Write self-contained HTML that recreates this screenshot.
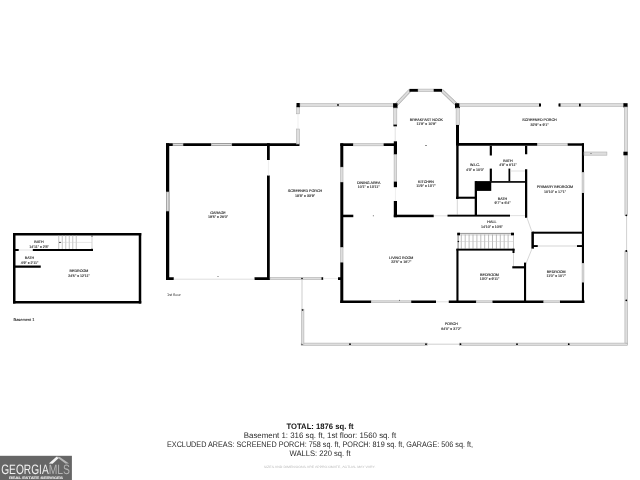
<!DOCTYPE html>
<html><head><meta charset="utf-8">
<style>
html,body{margin:0;padding:0;background:#fff;width:640px;height:480px;overflow:hidden}
svg{display:block;will-change:transform}
text{font-family:"Liberation Sans",sans-serif;text-rendering:geometricPrecision}
</style></head>
<body>
<svg width="640" height="480" viewBox="0 0 640 480">
<rect x="0" y="0" width="640" height="480" fill="#fff"/>
<rect x="13.00" y="233.00" width="128.25" height="2.50" fill="#000"/>
<rect x="13.00" y="233.00" width="2.50" height="70.50" fill="#000"/>
<rect x="138.75" y="233.00" width="2.50" height="70.50" fill="#000"/>
<rect x="13.00" y="301.00" width="128.25" height="2.50" fill="#000"/>
<rect x="15.00" y="249.00" width="3.75" height="2.00" fill="#000"/>
<rect x="32.75" y="249.00" width="60.25" height="2.00" fill="#000"/>
<line x1="18.75" y1="250.00" x2="32.75" y2="250.00" stroke="#ccc" stroke-width="0.6"/>
<line x1="92.00" y1="235.50" x2="92.00" y2="249.00" stroke="#aaa" stroke-width="0.5"/>
<line x1="58.75" y1="235.50" x2="58.75" y2="249.00" stroke="#b5b5b5" stroke-width="0.8"/>
<line x1="62.25" y1="235.50" x2="62.25" y2="249.00" stroke="#b5b5b5" stroke-width="0.8"/>
<line x1="65.75" y1="235.50" x2="65.75" y2="249.00" stroke="#b5b5b5" stroke-width="0.8"/>
<line x1="69.25" y1="235.50" x2="69.25" y2="249.00" stroke="#b5b5b5" stroke-width="0.8"/>
<line x1="72.75" y1="235.50" x2="72.75" y2="249.00" stroke="#b5b5b5" stroke-width="0.8"/>
<line x1="76.25" y1="235.50" x2="76.25" y2="249.00" stroke="#b5b5b5" stroke-width="0.8"/>
<line x1="59.00" y1="242.40" x2="92.00" y2="242.40" stroke="#ccc" stroke-width="0.5"/>
<circle cx="60.00" cy="242.40" r="0.7" fill="#000"/>
<circle cx="92.00" cy="236.00" r="0.6" fill="#000"/>
<circle cx="92.00" cy="249.00" r="0.6" fill="#000"/>
<rect x="15.00" y="265.50" width="25.75" height="2.25" fill="#000"/>
<text x="39.00" y="242.80" font-size="3.65" text-anchor="middle" fill="#222" stroke="#222" stroke-width="0.12">BATH</text>
<text x="39.00" y="247.80" font-size="3.65" text-anchor="middle" fill="#222" stroke="#222" stroke-width="0.12">14'11&quot; x 2'8&quot;</text>
<text x="29.50" y="258.50" font-size="3.65" text-anchor="middle" fill="#222" stroke="#222" stroke-width="0.12">BATH</text>
<text x="29.50" y="263.50" font-size="3.65" text-anchor="middle" fill="#222" stroke="#222" stroke-width="0.12">4'9&quot; x 2'11&quot;</text>
<text x="79.00" y="272.10" font-size="3.65" text-anchor="middle" fill="#222" stroke="#222" stroke-width="0.12">BEDROOM</text>
<text x="79.00" y="277.10" font-size="3.65" text-anchor="middle" fill="#222" stroke="#222" stroke-width="0.12">24'5&quot; x 12'11&quot;</text>
<text x="13.60" y="320.80" font-size="3.9" text-anchor="start" fill="#222" stroke="#222" stroke-width="0.1">Basement 1</text>
<rect x="166.00" y="143.25" width="133.50" height="2.75" fill="#000"/>
<rect x="173.00" y="143.60" width="10.00" height="2.10" fill="#dedede" stroke="#b0b0b0" stroke-width="0.6"/>
<rect x="211.25" y="143.60" width="20.50" height="2.10" fill="#dedede" stroke="#b0b0b0" stroke-width="0.6"/>
<rect x="166.00" y="143.25" width="3.25" height="136.75" fill="#000"/>
<rect x="166.30" y="192.00" width="2.60" height="19.00" fill="#dedede" stroke="#b0b0b0" stroke-width="0.6"/>
<rect x="166.00" y="277.25" width="7.75" height="2.75" fill="#000"/>
<rect x="254.50" y="277.25" width="15.50" height="2.75" fill="#000"/>
<line x1="173.75" y1="279.20" x2="254.50" y2="279.20" stroke="#c8c8c8" stroke-width="0.6"/>
<rect x="267.00" y="143.25" width="2.75" height="16.75" fill="#000"/>
<rect x="267.00" y="175.50" width="2.75" height="104.50" fill="#000"/>
<line x1="268.40" y1="160.00" x2="268.40" y2="175.50" stroke="#ddd" stroke-width="0.5"/>
<rect x="296.60" y="129.00" width="2.80" height="15.00" fill="#dedede" stroke="#b0b0b0" stroke-width="0.6"/>
<rect x="296.60" y="106.00" width="2.80" height="7.80" fill="#dedede" stroke="#b0b0b0" stroke-width="0.6"/>
<line x1="298.00" y1="113.80" x2="298.00" y2="129.00" stroke="#ddd" stroke-width="0.5"/>
<rect x="296.50" y="103.00" width="3.50" height="4.20" fill="#000"/>
<text x="218.00" y="213.60" font-size="3.65" text-anchor="middle" fill="#222" stroke="#222" stroke-width="0.12">GARAGE</text>
<text x="218.00" y="218.10" font-size="3.65" text-anchor="middle" fill="#222" stroke="#222" stroke-width="0.12">19'5&quot; x 26'0&quot;</text>
<text x="305.00" y="192.30" font-size="3.65" text-anchor="middle" fill="#222" stroke="#222" stroke-width="0.12">SCREENED PORCH</text>
<text x="305.00" y="196.80" font-size="3.65" text-anchor="middle" fill="#222" stroke="#222" stroke-width="0.12">18'8&quot; x 33'9&quot;</text>
<text x="167.00" y="296.30" font-size="3.9" text-anchor="start" fill="#333" >1st floor</text>
<rect x="270.00" y="277.40" width="52.50" height="2.20" fill="#dedede" stroke="#b0b0b0" stroke-width="0.6"/>
<circle cx="302.00" cy="278.50" r="0.8" fill="#000"/>
<rect x="321.50" y="277.30" width="1.70" height="2.50" fill="#000"/>
<line x1="323.00" y1="278.50" x2="338.50" y2="278.50" stroke="#ddd" stroke-width="0.5"/>
<rect x="338.00" y="277.25" width="3.00" height="2.75" fill="#000"/>
<rect x="300.00" y="103.60" width="94.00" height="2.80" fill="#dedede" stroke="#b0b0b0" stroke-width="0.6"/>
<circle cx="338.00" cy="105.00" r="0.9" fill="#000"/>
<line x1="395.5" y1="105.5" x2="410" y2="90.3" stroke="#a8a8a8" stroke-width="3.4"/>
<line x1="395.5" y1="105.5" x2="410" y2="90.3" stroke="#dcdcdc" stroke-width="2.2"/>
<line x1="457.5" y1="105.5" x2="441.5" y2="90.3" stroke="#a8a8a8" stroke-width="3.4"/>
<line x1="457.5" y1="105.5" x2="441.5" y2="90.3" stroke="#dcdcdc" stroke-width="2.2"/>
<rect x="409.40" y="88.90" width="8.70" height="2.85" fill="#000"/>
<rect x="418.10" y="89.10" width="15.65" height="2.50" fill="#dedede" stroke="#b0b0b0" stroke-width="0.6"/>
<rect x="433.75" y="88.90" width="8.25" height="2.85" fill="#000"/>
<rect x="393.10" y="103.25" width="4.40" height="5.00" fill="#000"/>
<rect x="455.00" y="103.25" width="5.00" height="5.00" fill="#000"/>
<rect x="393.60" y="108.00" width="3.20" height="17.20" fill="#dedede" stroke="#b0b0b0" stroke-width="0.6"/>
<rect x="393.50" y="124.60" width="3.40" height="1.80" fill="#000"/>
<line x1="395.20" y1="126.40" x2="395.20" y2="141.30" stroke="#ccc" stroke-width="0.6"/>
<rect x="456.10" y="108.00" width="3.20" height="17.00" fill="#dedede" stroke="#b0b0b0" stroke-width="0.6"/>
<rect x="456.00" y="125.00" width="3.00" height="20.75" fill="#000"/>
<rect x="456.20" y="145.75" width="2.40" height="53.25" fill="#000"/>
<line x1="457.30" y1="199.00" x2="457.30" y2="214.70" stroke="#bbb" stroke-width="0.6"/>
<text x="426.40" y="120.50" font-size="3.65" text-anchor="middle" fill="#222" stroke="#222" stroke-width="0.12">BREAKFAST NOOK</text>
<text x="426.40" y="125.00" font-size="3.65" text-anchor="middle" fill="#222" stroke="#222" stroke-width="0.12">11'9&quot; x 10'9&quot;</text>
<rect x="459.50" y="103.60" width="80.50" height="2.80" fill="#dedede" stroke="#b0b0b0" stroke-width="0.6"/>
<rect x="539.00" y="103.50" width="2.00" height="3.00" fill="#000"/>
<rect x="559.50" y="103.60" width="65.00" height="2.80" fill="#dedede" stroke="#b0b0b0" stroke-width="0.6"/>
<rect x="558.50" y="103.50" width="2.00" height="3.00" fill="#000"/>
<rect x="623.40" y="103.20" width="4.20" height="4.20" fill="#000"/>
<rect x="579.00" y="103.60" width="1.70" height="2.80" fill="#000"/>
<rect x="624.40" y="107.00" width="3.20" height="46.00" fill="#dedede" stroke="#b0b0b0" stroke-width="0.6"/>
<rect x="624.90" y="153.00" width="2.70" height="62.30" fill="#dedede" stroke="#b0b0b0" stroke-width="0.6"/>
<line x1="626.60" y1="215.30" x2="626.60" y2="251.00" stroke="#c4c4c4" stroke-width="0.8"/>
<rect x="624.90" y="251.00" width="2.70" height="92.60" fill="#dedede" stroke="#b0b0b0" stroke-width="0.6"/>
<rect x="623.40" y="151.70" width="4.20" height="3.60" fill="#000"/>
<circle cx="626.30" cy="215.30" r="0.9" fill="#000"/>
<circle cx="626.30" cy="251.00" r="0.9" fill="#000"/>
<circle cx="626.30" cy="300.30" r="0.9" fill="#000"/>
<circle cx="626.30" cy="344.00" r="1.0" fill="#000"/>
<rect x="301.20" y="343.10" width="126.40" height="2.30" fill="#dedede" stroke="#b0b0b0" stroke-width="0.6"/>
<line x1="427.60" y1="344.20" x2="459.60" y2="344.20" stroke="#bbb" stroke-width="0.7"/>
<rect x="459.60" y="343.10" width="167.80" height="2.30" fill="#dedede" stroke="#b0b0b0" stroke-width="0.6"/>
<circle cx="302.00" cy="344.20" r="0.9" fill="#000"/>
<circle cx="350.00" cy="344.20" r="0.9" fill="#000"/>
<circle cx="426.00" cy="344.20" r="0.9" fill="#000"/>
<circle cx="460.50" cy="344.20" r="0.9" fill="#000"/>
<circle cx="517.00" cy="344.20" r="0.9" fill="#000"/>
<circle cx="568.75" cy="344.20" r="0.9" fill="#000"/>
<line x1="302.00" y1="279.70" x2="302.00" y2="309.20" stroke="#999" stroke-width="0.5"/>
<rect x="301.40" y="309.20" width="2.50" height="35.00" fill="#dedede" stroke="#b0b0b0" stroke-width="0.6"/>
<circle cx="302.60" cy="310.00" r="0.8" fill="#000"/>
<text x="305.00" y="192.30" font-size="3.65" text-anchor="middle" fill="#222" stroke="#222" stroke-width="0.12"></text>
<text x="305.00" y="196.80" font-size="3.65" text-anchor="middle" fill="#222" stroke="#222" stroke-width="0.12"></text>
<rect x="340.30" y="143.30" width="13.00" height="2.70" fill="#000"/>
<rect x="353.30" y="143.60" width="30.40" height="2.20" fill="#dedede" stroke="#b0b0b0" stroke-width="0.6"/>
<rect x="383.70" y="143.30" width="13.30" height="2.70" fill="#000"/>
<rect x="340.30" y="143.30" width="3.00" height="23.90" fill="#000"/>
<rect x="340.60" y="167.20" width="2.40" height="15.00" fill="#dedede" stroke="#b0b0b0" stroke-width="0.6"/>
<rect x="340.30" y="182.20" width="3.00" height="65.30" fill="#000"/>
<rect x="340.60" y="247.50" width="2.40" height="15.00" fill="#dedede" stroke="#b0b0b0" stroke-width="0.6"/>
<rect x="340.30" y="262.50" width="3.00" height="40.50" fill="#000"/>
<rect x="343.00" y="214.70" width="10.30" height="2.50" fill="#000"/>
<rect x="393.80" y="141.30" width="3.20" height="13.40" fill="#000"/>
<rect x="394.10" y="154.70" width="2.60" height="27.00" fill="#dedede" stroke="#b0b0b0" stroke-width="0.6"/>
<rect x="393.80" y="181.70" width="3.20" height="5.50" fill="#000"/>
<line x1="395.40" y1="187.20" x2="395.40" y2="201.00" stroke="#ddd" stroke-width="0.5"/>
<rect x="393.80" y="201.00" width="3.20" height="16.20" fill="#000"/>
<rect x="393.80" y="214.70" width="39.95" height="2.50" fill="#000"/>
<line x1="433.75" y1="215.80" x2="447.50" y2="215.80" stroke="#ccc" stroke-width="0.6"/>
<rect x="447.50" y="214.70" width="62.50" height="1.90" fill="#000"/>
<line x1="510.00" y1="215.60" x2="525.00" y2="215.60" stroke="#ccc" stroke-width="0.6"/>
<text x="368.70" y="183.50" font-size="3.65" text-anchor="middle" fill="#222" stroke="#222" stroke-width="0.12">DINING AREA</text>
<text x="368.70" y="188.00" font-size="3.65" text-anchor="middle" fill="#222" stroke="#222" stroke-width="0.12">10'1&quot; x 13'11&quot;</text>
<text x="426.00" y="182.60" font-size="3.65" text-anchor="middle" fill="#222" stroke="#222" stroke-width="0.12">KITCHEN</text>
<text x="426.00" y="187.10" font-size="3.65" text-anchor="middle" fill="#222" stroke="#222" stroke-width="0.12">11'9&quot; x 13'7&quot;</text>
<circle cx="426.00" cy="145.50" r="0.5" fill="#555"/>
<rect x="456.25" y="143.00" width="81.25" height="2.75" fill="#000"/>
<rect x="537.50" y="143.60" width="30.25" height="2.00" fill="#dedede" stroke="#b0b0b0" stroke-width="0.6"/>
<rect x="567.75" y="143.30" width="16.25" height="2.45" fill="#000"/>
<rect x="489.75" y="145.75" width="2.15" height="9.75" fill="#000"/>
<rect x="489.75" y="168.60" width="2.15" height="12.50" fill="#000"/>
<rect x="475.60" y="181.10" width="15.65" height="9.80" fill="#000"/>
<rect x="474.70" y="181.10" width="2.30" height="34.40" fill="#000"/>
<rect x="456.00" y="196.70" width="19.20" height="2.05" fill="#000"/>
<rect x="491.00" y="181.10" width="36.00" height="1.65" fill="#000"/>
<rect x="525.00" y="145.75" width="2.25" height="8.50" fill="#000"/>
<rect x="525.00" y="169.25" width="2.25" height="48.55" fill="#000"/>
<rect x="508.50" y="168.60" width="1.75" height="12.40" fill="#000"/>
<line x1="510.00" y1="171.00" x2="525.00" y2="171.00" stroke="#ccc" stroke-width="0.6"/>
<text x="475.00" y="166.20" font-size="3.65" text-anchor="middle" fill="#222" stroke="#222" stroke-width="0.12">W.I.C.</text>
<text x="475.00" y="170.70" font-size="3.65" text-anchor="middle" fill="#222" stroke="#222" stroke-width="0.12">4'3&quot; x 10'0&quot;</text>
<text x="508.00" y="161.70" font-size="3.65" text-anchor="middle" fill="#222" stroke="#222" stroke-width="0.12">BATH</text>
<text x="508.00" y="166.20" font-size="3.65" text-anchor="middle" fill="#222" stroke="#222" stroke-width="0.12">4'8&quot; x 6'11&quot;</text>
<text x="502.50" y="199.50" font-size="3.65" text-anchor="middle" fill="#222" stroke="#222" stroke-width="0.12">BATH</text>
<text x="502.50" y="204.00" font-size="3.65" text-anchor="middle" fill="#222" stroke="#222" stroke-width="0.12">9'7&quot; x 6'4&quot;</text>
<text x="491.90" y="223.30" font-size="3.65" text-anchor="middle" fill="#222" stroke="#222" stroke-width="0.12">HALL</text>
<text x="491.90" y="227.80" font-size="3.65" text-anchor="middle" fill="#222" stroke="#222" stroke-width="0.12">14'10&quot; x 10'6&quot;</text>
<rect x="581.90" y="143.30" width="2.10" height="29.20" fill="#000"/>
<rect x="582.10" y="172.50" width="1.80" height="20.50" fill="#dedede" stroke="#b0b0b0" stroke-width="0.6"/>
<rect x="581.90" y="193.00" width="2.10" height="70.30" fill="#000"/>
<rect x="582.10" y="263.30" width="1.80" height="19.20" fill="#dedede" stroke="#b0b0b0" stroke-width="0.6"/>
<rect x="581.90" y="282.50" width="2.10" height="20.50" fill="#000"/>
<rect x="584.00" y="152.00" width="22.90" height="3.20" fill="#dedede" stroke="#b0b0b0" stroke-width="0.6"/>
<rect x="532.00" y="231.70" width="51.70" height="2.00" fill="#000"/>
<rect x="531.40" y="231.70" width="2.50" height="17.00" fill="#000"/>
<rect x="533.00" y="245.10" width="4.80" height="1.90" fill="#000"/>
<line x1="537.80" y1="246.00" x2="577.20" y2="246.00" stroke="#bbb" stroke-width="0.6"/>
<rect x="577.00" y="245.10" width="5.00" height="1.90" fill="#000"/>
<line x1="527.00" y1="217.80" x2="532.00" y2="232.00" stroke="#ccc" stroke-width="0.8"/>
<line x1="532.00" y1="248.70" x2="525.00" y2="266.00" stroke="#ccc" stroke-width="0.8"/>
<text x="555.00" y="188.30" font-size="3.65" text-anchor="middle" fill="#222" stroke="#222" stroke-width="0.12">PRIMARY BEDROOM</text>
<text x="555.00" y="192.80" font-size="3.65" text-anchor="middle" fill="#222" stroke="#222" stroke-width="0.12">10'10&quot; x 17'1&quot;</text>
<rect x="457.8" y="233.5" width="55.8" height="15.5" fill="none" stroke="#aaa" stroke-width="0.6"/>
<line x1="461.30" y1="234.50" x2="461.30" y2="248.80" stroke="#a8a8a8" stroke-width="0.75"/>
<line x1="465.20" y1="234.50" x2="465.20" y2="248.80" stroke="#a8a8a8" stroke-width="0.75"/>
<line x1="469.10" y1="234.50" x2="469.10" y2="248.80" stroke="#a8a8a8" stroke-width="0.75"/>
<line x1="473.00" y1="234.50" x2="473.00" y2="248.80" stroke="#a8a8a8" stroke-width="0.75"/>
<line x1="476.90" y1="234.50" x2="476.90" y2="248.80" stroke="#a8a8a8" stroke-width="0.75"/>
<line x1="480.80" y1="234.50" x2="480.80" y2="248.80" stroke="#a8a8a8" stroke-width="0.75"/>
<line x1="484.70" y1="234.50" x2="484.70" y2="248.80" stroke="#a8a8a8" stroke-width="0.75"/>
<line x1="488.60" y1="234.50" x2="488.60" y2="248.80" stroke="#a8a8a8" stroke-width="0.75"/>
<line x1="492.50" y1="234.50" x2="492.50" y2="248.80" stroke="#a8a8a8" stroke-width="0.75"/>
<line x1="496.40" y1="234.50" x2="496.40" y2="248.80" stroke="#a8a8a8" stroke-width="0.75"/>
<line x1="500.30" y1="234.50" x2="500.30" y2="248.80" stroke="#a8a8a8" stroke-width="0.75"/>
<line x1="504.20" y1="234.50" x2="504.20" y2="248.80" stroke="#a8a8a8" stroke-width="0.75"/>
<line x1="508.10" y1="234.50" x2="508.10" y2="248.80" stroke="#a8a8a8" stroke-width="0.75"/>
<line x1="458.00" y1="241.50" x2="513.50" y2="241.50" stroke="#c4c4c4" stroke-width="0.5"/>
<line x1="458.00" y1="233.40" x2="513.00" y2="233.40" stroke="#777" stroke-width="0.6"/>
<line x1="458.00" y1="234.90" x2="513.00" y2="234.90" stroke="#999" stroke-width="0.5"/>
<line x1="458.30" y1="235.00" x2="458.30" y2="249.00" stroke="#aaa" stroke-width="1.2"/>
<circle cx="458.30" cy="241.50" r="0.7" fill="#000"/>
<rect x="457.20" y="232.70" width="2.80" height="2.60" fill="#000"/>
<rect x="511.00" y="232.70" width="3.00" height="2.60" fill="#000"/>
<rect x="456.40" y="248.75" width="58.10" height="1.85" fill="#000"/>
<rect x="456.40" y="248.75" width="2.10" height="54.25" fill="#000"/>
<rect x="512.50" y="248.75" width="2.00" height="4.25" fill="#000"/>
<line x1="513.50" y1="253.00" x2="513.50" y2="266.20" stroke="#bbb" stroke-width="0.6"/>
<rect x="512.30" y="266.20" width="13.70" height="2.20" fill="#000"/>
<rect x="524.00" y="262.60" width="2.10" height="40.40" fill="#000"/>
<rect x="340.30" y="300.50" width="30.95" height="2.50" fill="#000"/>
<rect x="371.25" y="300.80" width="40.00" height="1.90" fill="#dedede" stroke="#b0b0b0" stroke-width="0.6"/>
<rect x="411.25" y="300.50" width="24.75" height="2.50" fill="#000"/>
<line x1="436.00" y1="301.80" x2="448.75" y2="301.80" stroke="#ccc" stroke-width="0.6"/>
<rect x="448.75" y="300.50" width="27.50" height="2.50" fill="#000"/>
<rect x="476.25" y="300.80" width="16.25" height="1.90" fill="#dedede" stroke="#b0b0b0" stroke-width="0.6"/>
<rect x="492.50" y="300.50" width="51.25" height="2.50" fill="#000"/>
<rect x="543.75" y="300.80" width="16.25" height="1.90" fill="#dedede" stroke="#b0b0b0" stroke-width="0.6"/>
<rect x="560.00" y="300.50" width="24.50" height="2.50" fill="#000"/>
<text x="401.25" y="258.80" font-size="3.65" text-anchor="middle" fill="#222" stroke="#222" stroke-width="0.12">LIVING ROOM</text>
<text x="401.25" y="263.30" font-size="3.65" text-anchor="middle" fill="#222" stroke="#222" stroke-width="0.12">22'5&quot; x 16'7&quot;</text>
<text x="489.50" y="275.80" font-size="3.65" text-anchor="middle" fill="#222" stroke="#222" stroke-width="0.12">BEDROOM</text>
<text x="489.50" y="280.30" font-size="3.65" text-anchor="middle" fill="#222" stroke="#222" stroke-width="0.12">13'0&quot; x 9'11&quot;</text>
<text x="556.25" y="272.50" font-size="3.65" text-anchor="middle" fill="#222" stroke="#222" stroke-width="0.12">BEDROOM</text>
<text x="556.25" y="277.00" font-size="3.65" text-anchor="middle" fill="#222" stroke="#222" stroke-width="0.12">11'0&quot; x 10'7&quot;</text>
<text x="451.25" y="325.00" font-size="3.65" text-anchor="middle" fill="#222" stroke="#222" stroke-width="0.12">PORCH</text>
<text x="451.25" y="329.50" font-size="3.65" text-anchor="middle" fill="#222" stroke="#222" stroke-width="0.12">64'0&quot; x 37'2&quot;</text>
<text x="539.50" y="121.30" font-size="3.65" text-anchor="middle" fill="#222" stroke="#222" stroke-width="0.12">SCREENED PORCH</text>
<text x="539.50" y="125.80" font-size="3.65" text-anchor="middle" fill="#222" stroke="#222" stroke-width="0.12">32'9&quot; x 9'1&quot;</text>
<circle cx="218.00" cy="276.60" r="0.5" fill="#444"/>
<circle cx="373.30" cy="215.80" r="0.5" fill="#444"/>
<circle cx="399.50" cy="300.20" r="0.5" fill="#444"/>
<circle cx="426.00" cy="145.50" r="0.5" fill="#444"/>
<circle cx="302.60" cy="310.00" r="0.5" fill="#444"/>
<circle cx="591.00" cy="153.50" r="0.5" fill="#444"/>
<g fill="#2a2a2a" font-size="8.0">
<text x="320" y="428.8" text-anchor="middle" font-weight="bold" fill="#111" textLength="67" lengthAdjust="spacingAndGlyphs">TOTAL: 1876 sq. ft</text>
<text x="320" y="438.3" text-anchor="middle" textLength="152.5" lengthAdjust="spacingAndGlyphs">Basement 1: 316 sq. ft, 1st floor: 1560 sq. ft</text>
<text x="320" y="447" text-anchor="middle" textLength="306" lengthAdjust="spacingAndGlyphs">EXCLUDED AREAS: SCREENED PORCH: 758 sq. ft, PORCH: 819 sq. ft, GARAGE: 506 sq. ft,</text>
<text x="320" y="455.8" text-anchor="middle" textLength="61" lengthAdjust="spacingAndGlyphs">WALLS: 220 sq. ft</text>
</g>
<text x="319.6" y="468" text-anchor="middle" font-size="3.2" fill="#bbb" textLength="111.7" lengthAdjust="spacingAndGlyphs">SIZES AND DIMENSIONS ARE APPROXIMATE, ACTUAL MAY VARY.</text>
<g>
<rect x="0" y="455.8" width="71.9" height="24.2" fill="#666666"/>
<polygon points="48.8,463.6 56.4,456.8 59.6,457.3 52.6,463.8" fill="#f4f4f4"/><polygon points="56.4,456.8 59.8,456.9 69,463.4 65.4,463.6" fill="#b8b8b8"/>
<text x="1.2" y="474.3" font-size="13.6" fill="#f0f0f0" textLength="47.5" lengthAdjust="spacingAndGlyphs">GEORGIA</text>
<text x="48.7" y="474.3" font-size="13.6" fill="#b4b4b4" textLength="21.3" lengthAdjust="spacingAndGlyphs">MLS</text>
<text x="9" y="478.8" font-size="3.4" fill="#e4e4e4" stroke="#e4e4e4" stroke-width="0.15" font-weight="bold" textLength="54" lengthAdjust="spacingAndGlyphs">REAL ESTATE SERVICES</text>
</g>
</svg>
</body></html>
